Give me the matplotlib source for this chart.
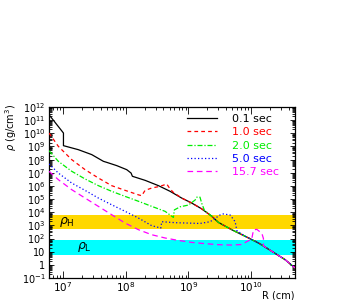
import matplotlib
matplotlib.use("Agg")
import matplotlib.pyplot as plt
from matplotlib.ticker import LogLocator, FixedLocator, FixedFormatter, NullFormatter

# ---------------- data ----------------
tail_R = [2.36e9, 3.0e9, 4.9e9, 8.0e9, 1.31e10, 2.14e10, 3.47e10, 5.0e10]
tail_rho = [4.9e3, 1.7e3, 470, 150, 46, 10.7, 2.5, 0.58]

R_01 = [6.0e6, 1.02e7, 1.02e7, 1.76e7, 2.88e7, 4.42e7, 4.99e7, 7.2e7, 1.04e8,
        1.22e8, 1.28e8, 2.04e8, 3.33e8, 5.1e8, 7.8e8, 1.13e9, 1.63e9] + tail_R
rho_01 = [2.6e11, 1.05e10, 1.15e9, 5.7e8, 2.4e8, 7.4e7, 6.2e7, 3.5e7, 1.72e7,
          9.5e6, 5.4e6, 2.66e6, 1.05e6, 3.9e5, 1.2e5, 5.0e4, 1.8e4] + tail_rho

R_10 = [6.0e6, 8.45e6, 1.38e7, 2.25e7, 3.67e7, 5.98e7, 9.8e7, 1.6e8, 1.8e8,
        2.04e8, 2.6e8, 3.53e8, 4.52e8, 5.1e8, 5.77e8, 7.8e8, 1.13e9, 1.63e9] + tail_R
rho_10 = [1.05e10, 1.02e9, 1.0e8, 1.74e7, 4.0e6, 1.05e6, 4.6e5, 2.1e5, 1.8e5,
          4.6e5, 6.9e5, 9.3e5, 1.4e6, 5.9e5, 3.2e5, 1.2e5, 5.0e4, 1.8e4] + tail_rho

R_20 = [6.0e6, 8.45e6, 1.38e7, 2.25e7, 3.67e7, 5.98e7, 9.8e7, 1.6e8, 2.6e8,
        4.25e8, 5.77e8, 5.97e8, 7.4e8, 1.0e9, 1.28e9, 1.36e9, 1.53e9, 1.63e9,
        1.8e9] + tail_R
rho_20 = [4.8e8, 7.4e7, 1.3e7, 3.4e6, 1.05e6, 3.9e5, 1.6e5, 6.8e4, 2.8e4,
          1.17e4, 4.0e3, 1.5e4, 2.6e4, 3.5e4, 8.5e4, 1.4e5, 1.4e5, 4.8e4,
          1.4e4] + tail_rho

R_50 = [6.0e6, 8.45e6, 1.38e7, 2.25e7, 3.67e7, 5.98e7, 9.8e7, 1.6e8, 2.6e8,
        3.63e8, 3.76e8, 6.3e8, 1.53e9, 2.22e9, 3.2e9, 3.61e9, 4.62e9, 5.56e9,
        5.92e9] + tail_R[3:]
rho_50 = [4.7e7, 9.5e6, 1.66e6, 4.6e5, 1.2e5, 3.7e4, 1.17e4, 3.6e3, 950,
          630, 1.9e3, 1.6e3, 1.4e3, 1.9e3, 6.2e3, 7.4e3, 6.2e3, 1.9e3,
          400] + tail_rho[3:]

R_157 = [6.0e6, 8.45e6, 1.38e7, 2.25e7, 3.67e7, 5.98e7, 9.8e7, 1.6e8, 2.6e8,
         4.25e8, 6.9e8, 1.13e9, 1.85e9, 3.0e9, 4.9e9, 7.1e9, 8.5e9, 1.02e10,
         1.09e10, 1.23e10, 1.48e10, 1.57e10, 1.57e10] + tail_R[5:]
rho_157 = [1.3e7, 3.0e6, 5.2e5, 1.2e5, 2.8e4, 6.5e3, 1.5e3, 470, 195,
           110, 72, 51, 41, 34, 32, 35, 58, 89,
           450, 500, 250, 100, 28] + tail_rho[5:]

labels = ["0.1 sec", "1.0 sec", "2.0 sec", "5.0 sec", "15.7 sec"]
colors = ["black", "#FF0000", "#00EE00", "#0000FF", "#FF00FF"]

band_H = (530, 6500)
band_L = (6, 80)

xlim = (6.0e6, 5.0e10)
ylim = (0.1, 1e12)
y_ticks = [10.0**k for k in range(-1, 13)]
y_ticklabels = ["$10^{-1}$", "1", "10"] + ["$10^{%d}$" % k for k in range(2, 13)]
x_ticks = [1e7, 1e8, 1e9, 1e10]
x_ticklabels = ["$10^{7}$", "$10^{8}$", "$10^{9}$", "$10^{10}$"]

# ---------------- figure ----------------
fig = plt.figure(figsize=(3.54, 3.0), dpi=100)
ax = fig.add_axes([49/354, 22/300, 246/354, 171/300])
ax.set_xscale("log")
ax.set_yscale("log")
ax.set_xlim(*xlim)
ax.set_ylim(*ylim)

ax.axhspan(*band_H, color="#FFD800", lw=0, zorder=1)
ax.axhspan(*band_L, color="#00FFFF", lw=0, zorder=1)
ax.text(8.8e6, 1.8e3, r"$\rho_{\rm H}$", fontsize=9, va="center", ha="left", zorder=5)
ax.text(1.7e7, 22, r"$\rho_{\rm L}$", fontsize=9, va="center", ha="left", zorder=5)

series = [(R_01, rho_01, "-"), (R_10, rho_10, (0, (3, 2.5))),
          (R_20, rho_20, (0, (4, 1.5, 1, 1.5))), (R_50, rho_50, (0, (1, 1.8))),
          (R_157, rho_157, (0, (4.5, 3)))]
handles = []
for (R, rho, ls), c, lab in zip(series, colors, labels):
    h, = ax.plot(R, rho, color=c, ls=ls, lw=0.9, zorder=3, label=lab)
    handles.append(h)

leg = ax.legend(handles=handles, loc="upper left", bbox_to_anchor=(0.561, 0.96),
                frameon=False, fontsize=8, handlelength=2.7, handletextpad=1.35,
                labelspacing=0.3, borderaxespad=0, borderpad=0)
for t, c in zip(leg.get_texts(), colors):
    t.set_color(c)

ax.yaxis.set_major_locator(FixedLocator(y_ticks))
ax.yaxis.set_major_formatter(FixedFormatter(y_ticklabels))
ax.yaxis.set_minor_locator(LogLocator(base=10, subs=range(2, 10), numticks=100))
ax.yaxis.set_minor_formatter(NullFormatter())
ax.xaxis.set_major_locator(FixedLocator(x_ticks))
ax.xaxis.set_major_formatter(FixedFormatter(x_ticklabels))
ax.xaxis.set_minor_locator(LogLocator(base=10, subs=range(2, 10), numticks=100))
ax.xaxis.set_minor_formatter(NullFormatter())

ax.tick_params(which="both", direction="in", top=True, right=True, width=0.6)
ax.tick_params(axis="x", which="major", length=5, labelsize=7.5, pad=1.8)
ax.tick_params(axis="x", which="minor", length=2.5)
ax.tick_params(axis="y", which="major", length=3.5, labelsize=7, pad=2.5)
ax.tick_params(axis="y", which="minor", length=2)
for s in ax.spines.values():
    s.set_linewidth(0.9)

fig.text(11/354, 1 - 104/300, r"$\rho$ (g/cm$^3$)", rotation=90, ha="center",
         va="top", fontsize=7)
fig.text(295/354, 1 - 300/300, "R (cm)", ha="right", va="bottom", fontsize=7)

fig.savefig("out.png", dpi=100)
